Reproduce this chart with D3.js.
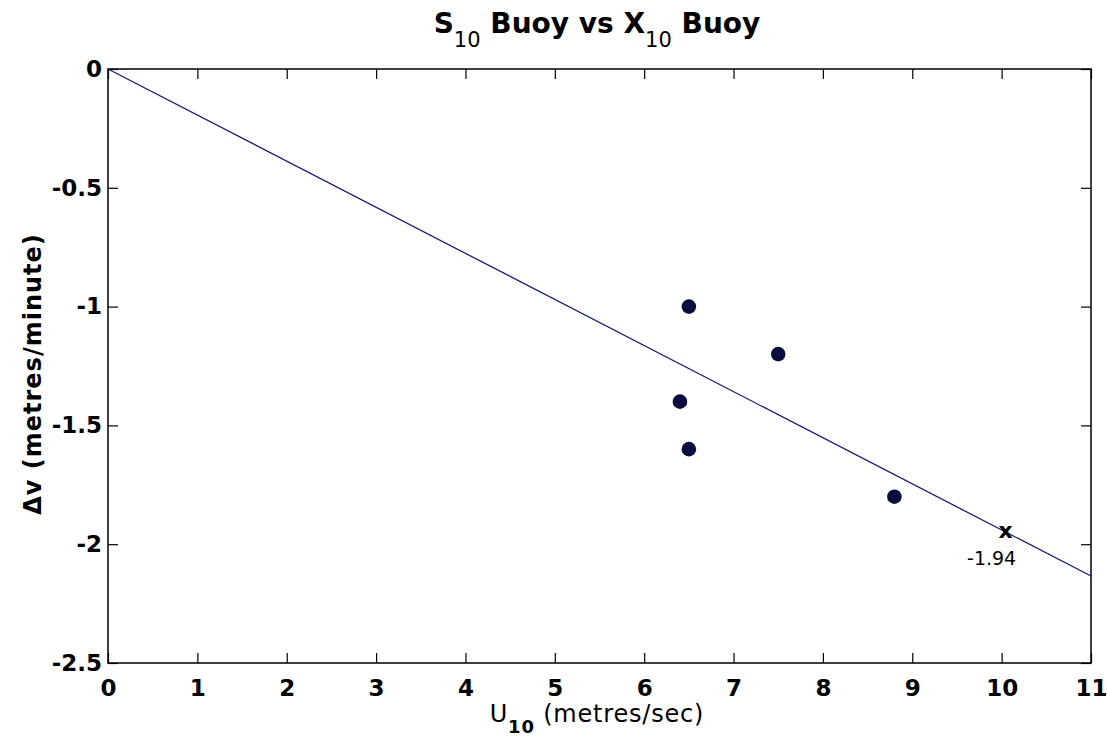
<!DOCTYPE html>
<html>
<head>
<meta charset="utf-8">
<script src="https://cdn.jsdelivr.net/npm/d3@7"></script>
<style>
  html, body { margin: 0; padding: 0; background: #ffffff; }
  svg { display: block; }
  text { font-family: "DejaVu Sans", "Liberation Sans", Arial, sans-serif; fill: #000; }
</style>
</head>
<body>
<svg id="chart" width="1107" height="746"></svg>
<script>
// Measured wind speed and drift velocity difference
const windSpeed = [6.5, 7.5, 6.4, 6.5, 8.8];
const deltaV = [-1.0, -1.2, -1.4, -1.6, -1.8];

// Least-squares fit through the origin, and the value it predicts at U10 = 10
const fitSlope = -0.194;
const fitRange = [0, 11];
const predictX = [10];
const predictY = [-1.94];

const xTicks = [0, 1, 2, 3, 4, 5, 6, 7, 8, 9, 10, 11];
const yTicks = [0, -0.5, -1, -1.5, -2, -2.5];

const svg = d3.select("#chart");
const plotLeft = 108, plotRight = 1091, plotTop = 69, plotBottom = 663;
const sansFont = "'DejaVu Sans', 'Liberation Sans', Arial, sans-serif";

const x = d3.scaleLinear().domain([0, 11]).range([plotLeft, plotRight]);
const y = d3.scaleLinear().domain([-2.5, 0]).range([plotBottom, plotTop]);

// Frame
svg.append("rect")
  .attr("x", plotLeft).attr("y", plotTop)
  .attr("width", plotRight - plotLeft).attr("height", plotBottom - plotTop)
  .attr("fill", "none").attr("stroke", "#000").attr("stroke-width", 1.5);

// Inward ticks on all four sides
const tickLen = 10;
const fmt = d => d3.format("")(d).replace("\u2212", "-");

const bottomAxis = svg.append("g").attr("transform", `translate(0,${plotBottom})`)
  .call(d3.axisBottom(x).tickValues(xTicks).tickSizeInner(-tickLen).tickSizeOuter(0).tickPadding(21).tickFormat(fmt));
const topAxis = svg.append("g").attr("transform", `translate(0,${plotTop})`)
  .call(d3.axisTop(x).tickValues(xTicks).tickSizeInner(-tickLen).tickSizeOuter(0).tickFormat(""));
const leftAxis = svg.append("g").attr("transform", `translate(${plotLeft},0)`)
  .call(d3.axisLeft(y).tickValues(yTicks).tickSizeInner(-tickLen).tickSizeOuter(0).tickPadding(6).tickFormat(fmt));
const rightAxis = svg.append("g").attr("transform", `translate(${plotRight},0)`)
  .call(d3.axisRight(y).tickValues(yTicks).tickSizeInner(-tickLen).tickSizeOuter(0).tickFormat(""));

[bottomAxis, topAxis, leftAxis, rightAxis].forEach(g => {
  g.select(".domain").remove();
  g.selectAll(".tick line").attr("stroke", "#000").attr("stroke-width", 1.2);
  g.selectAll(".tick text")
    .attr("font-family", sansFont)
    .attr("font-size", 23).attr("font-weight", "bold").attr("fill", "#111");
});
bottomAxis.selectAll(".tick text").attr("dy", "0.5em");

// Fitted line
const line = d3.line().x(d => x(d)).y(d => y(fitSlope * d));
svg.append("path")
  .attr("d", line(fitRange))
  .attr("fill", "none").attr("stroke", "#1a1a7a").attr("stroke-width", 1.3);

// Observations
svg.selectAll("circle.obs")
  .data(windSpeed.map((v, i) => [v, deltaV[i]]))
  .join("circle")
  .attr("class", "obs")
  .attr("cx", d => x(d[0])).attr("cy", d => y(d[1]))
  .attr("r", 7.3).attr("fill", "#0b0b3f");

// Predicted point
svg.selectAll("text.pred")
  .data(predictX.map((v, i) => [v, predictY[i]]))
  .join("text")
  .attr("class", "pred")
  .attr("x", d => x(d[0]) + 4).attr("y", d => y(d[1]) + 8)
  .attr("text-anchor", "middle")
  .attr("font-size", 22).attr("font-weight", "bold")
  .text("x");
svg.selectAll("text.predLabel")
  .data(predictX.map((v, i) => [v, predictY[i]]))
  .join("text")
  .attr("class", "predLabel")
  .attr("x", d => x(d[0]) - 10).attr("y", d => y(d[1]) + 35)
  .attr("text-anchor", "middle")
  .attr("font-size", 19).attr("fill", "#222")
  .text(d => d[1].toFixed(2));

// Title
const title = svg.append("text")
  .attr("x", 597).attr("y", 33)
  .attr("text-anchor", "middle")
  .attr("font-size", 28).attr("font-weight", "bold");
title.append("tspan").text("S");
title.append("tspan").attr("font-size", 21).attr("font-weight", "normal").attr("dy", 14).text("10");
title.append("tspan").attr("dy", -14).text(" Buoy vs X");
title.append("tspan").attr("font-size", 21).attr("font-weight", "normal").attr("dy", 14).text("10");
title.append("tspan").attr("dy", -14).text(" Buoy");

// X axis label
const xl = svg.append("text")
  .attr("x", 597).attr("y", 722)
  .attr("text-anchor", "middle")
  .attr("font-size", 24).attr("letter-spacing", 0.8);
xl.append("tspan").text("U");
xl.append("tspan").attr("font-size", 18).attr("font-weight", "bold").attr("dy", 11).text("10");
xl.append("tspan").attr("dy", -11).text(" (metres/sec)");

// Y axis label
svg.append("text")
  .attr("transform", "translate(41,374) rotate(-90)")
  .attr("text-anchor", "middle")
  .attr("font-size", 24).attr("font-weight", "bold").attr("letter-spacing", 1)
  .text("\u0394v (metres/minute)");
</script>
</body>
</html>
